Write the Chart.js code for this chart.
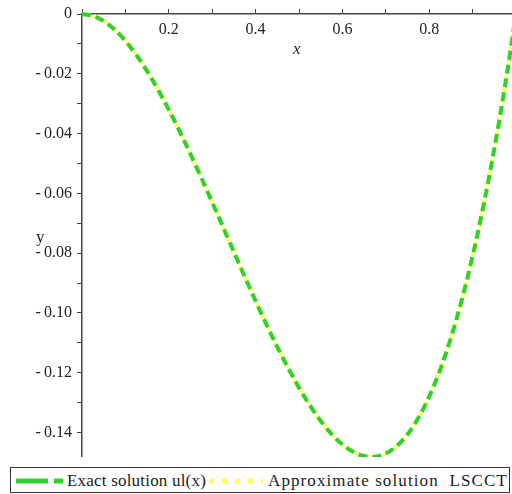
<!DOCTYPE html>
<html>
<head>
<meta charset="utf-8">
<script src="https://cdn.jsdelivr.net/npm/chart.js@4/dist/chart.umd.min.js"></script>
<style>
  html, body { margin: 0; padding: 0; background: #fff; width: 512px; height: 494px; overflow: hidden; }
  #wrap { position: absolute; left: 0; top: 0; width: 516px; height: 457px; }
  .t { position: absolute; font-family: 'Liberation Serif', 'DejaVu Serif', serif; color: #222; white-space: pre; line-height: 1; }
  #legend { position: absolute; left: 10px; top: 467px; width: 498px; height: 24px; border: 1px solid #333; }
</style>
</head>
<body>
<div id="wrap"><canvas id="c" width="516" height="457"></canvas></div>
<span class="t" style="left:293px; top:40px; font-size:17px; font-style:italic;">x</span>
<span class="t" style="left:36px; top:228px; font-size:17px;">y</span>
<div id="legend">
  <svg width="498" height="24" style="position:absolute;left:0;top:0">
    <line x1="198" y1="13" x2="252" y2="13" stroke="#ffff55" stroke-width="5" stroke-dasharray="5,8"/>
    <line x1="5" y1="13" x2="52" y2="13" stroke="#2fd02f" stroke-width="5" stroke-dasharray="32,6,9,60"/>
  </svg>
  <span class="t" id="l1" style="left:56px; top:4px; font-size:17px; letter-spacing:0.2px;">Exact solution ul(x)</span>
  <span class="t" id="l2" style="left:257px; top:4px; font-size:17px; letter-spacing:1.1px;">Approximate solution  LSCCT</span>
</div>
<script>
// ---- data ----
const xValues = [0, 0.025, 0.05, 0.075, 0.1, 0.125, 0.15, 0.175, 0.2, 0.225, 0.25, 0.275, 0.3, 0.325, 0.35, 0.375, 0.4, 0.425, 0.45, 0.475, 0.5, 0.525, 0.55, 0.575, 0.6, 0.625, 0.65, 0.675, 0.7, 0.725, 0.75, 0.775, 0.8, 0.825, 0.85, 0.875, 0.9, 0.925, 0.95, 0.975, 1.0];
const exactValues = [0, -0.00061, -0.00238, -0.00520, -0.00900, -0.01367, -0.01913, -0.02527, -0.03200, -0.03923, -0.04688, -0.05483, -0.06300, -0.07130, -0.07963, -0.08789, -0.09600, -0.10386, -0.11138, -0.11845, -0.12500, -0.13092, -0.13613, -0.14052, -0.14400, -0.14648, -0.14788, -0.14808, -0.14700, -0.14455, -0.14063, -0.13514, -0.12800, -0.11911, -0.10838, -0.09570, -0.08100, -0.06417, -0.04513, -0.02377, 0];
const approxValues = [0, -0.00061, -0.00238, -0.00520, -0.00900, -0.01367, -0.01913, -0.02527, -0.03200, -0.03923, -0.04688, -0.05483, -0.06300, -0.07130, -0.07963, -0.08789, -0.09600, -0.10386, -0.11138, -0.11845, -0.12500, -0.13092, -0.13613, -0.14052, -0.14400, -0.14648, -0.14788, -0.14808, -0.14700, -0.14455, -0.14063, -0.13514, -0.12800, -0.11911, -0.10838, -0.09570, -0.08100, -0.06417, -0.04513, -0.02377, 0];
const xTicks = [0, 0.1, 0.2, 0.3, 0.4, 0.5, 0.6, 0.7, 0.8, 0.9, 1.0];
const xTickLabels = ['', '', '0.2', '', '0.4', '', '0.6', '', '0.8', '', ''];
const yTicks = [-0.14, -0.13, -0.12, -0.11, -0.10, -0.09, -0.08, -0.07, -0.06, -0.05, -0.04, -0.03, -0.02, -0.01, 0];
const yTickLabels = ['-\u20090.14', '', '-\u20090.12', '', '-\u20090.10', '', '-\u20090.08', '', '-\u20090.06', '', '-\u20090.04', '', '-\u20090.02', '', '0'];
const seriesNames = ['Exact solution ul(x)', 'Approximate solution  LSCCT'];

const toPts = (ys) => xValues.map((x, i) => ({ x: x, y: ys[i] }));
const tickFont = { family: 'Liberation Serif', size: 16 };

new Chart(document.getElementById('c'), {
  type: 'scatter',
  data: {
    datasets: [
      { label: seriesNames[0], data: toPts(exactValues), showLine: true, borderColor: '#2fd02f', borderWidth: 4, borderDash: [9, 5], pointRadius: 0, cubicInterpolationMode: 'monotone', clip: false },
      { label: seriesNames[1], data: toPts(approxValues), showLine: true, borderColor: '#ffff55', borderWidth: 4.5, borderDash: [3, 3], pointRadius: 0, cubicInterpolationMode: 'monotone', clip: false }
    ]
  },
  options: {
    responsive: false,
    animation: false,
    devicePixelRatio: 1,
    layout: { padding: 0 },
    plugins: { legend: { display: false }, tooltip: { enabled: false } },
    scales: {
      x: {
        type: 'linear', position: 'top', min: 0, max: 1,
        afterBuildTicks: (s) => { s.ticks = xTicks.map(v => ({ value: v })); },
        afterFit: (s) => { s.height = 14; s.paddingLeft = 0; s.paddingRight = 0; },
        ticks: { mirror: true, padding: 6, autoSkip: false, maxRotation: 0, color: '#222', font: tickFont,
                 callback: (v, i) => xTickLabels[i] },
        grid: { drawOnChartArea: false, tickLength: 5, color: '#444', lineWidth: 1 },
        border: { color: '#444', width: 1.5 }
      },
      y: {
        type: 'linear', position: 'left', min: -0.1482, max: 0,
        afterBuildTicks: (s) => { s.ticks = yTicks.map(v => ({ value: v })); },
        afterFit: (s) => { s.width = 82; s.paddingTop = 0; s.paddingBottom = 0; },
        ticks: { padding: 5, autoSkip: false, color: '#222', font: tickFont,
                 callback: (v, i) => yTickLabels[i] },
        grid: { drawOnChartArea: false, tickLength: 5, color: '#444', lineWidth: 1 },
        border: { color: '#444', width: 1.5 }
      }
    }
  }
});
</script>
</body>
</html>
